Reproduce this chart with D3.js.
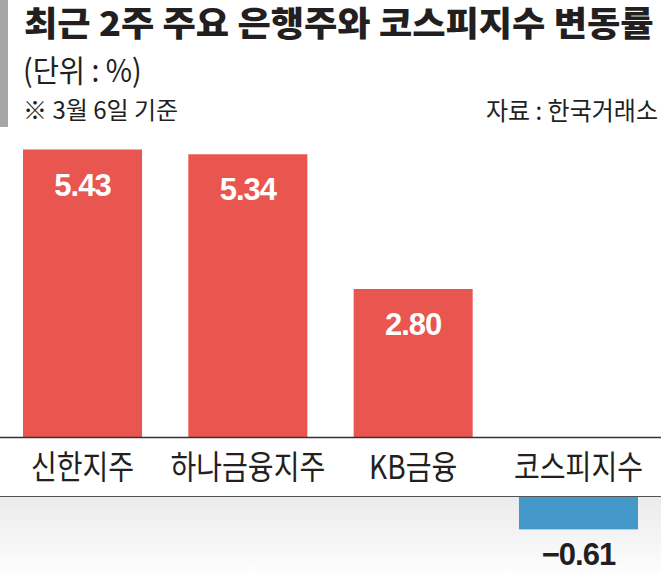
<!DOCTYPE html>
<html>
<head>
<meta charset="utf-8">
<script src="https://cdn.jsdelivr.net/npm/d3@7"></script>
<style>
  body { margin: 0; background: #fff; }
  svg { display: block; }
</style>
</head>
<body>
<svg id="chart" width="661" height="573"></svg>
<script>
// --- Data ---
const categories = ["신한지주", "하나금융지주", "KB금융", "코스피지수"];
const values = [5.43, 5.34, 2.80, -0.61];
const valueLabels = ["5.43", "5.34", "2.80", "−0.61"];

const svg = d3.select("#chart");
const W = 661, H = 573;

const red = "#e9554f";
const blue = "#4599ca";
const krFont = "'Noto Sans CJK KR', 'Noto Sans', sans-serif";
const numFont = "'Liberation Sans', Arial, sans-serif";

// --- Scales ---
const x = d3.scaleBand()
    .domain(categories)
    .range([23, 638])
    .paddingInner(0.28)
    .paddingOuter(0);

const zeroY = 437.5;     // baseline for positive bars
const negBase = 497;     // negative bars hang below the label band
const y = d3.scaleLinear().domain([0, 5.43]).range([zeroY, 149.5]);
const yNeg = d3.scaleLinear().domain([0, -5.43]).range([negBase, negBase + (zeroY - 149.5)]);

// --- Background band below labels ---
const defs = svg.append("defs");
const grad = defs.append("linearGradient")
    .attr("id", "fade").attr("x1", 0).attr("y1", 0).attr("x2", 0).attr("y2", 1);
grad.append("stop").attr("offset", "0%").attr("stop-color", "#ebebeb");
grad.append("stop").attr("offset", "100%").attr("stop-color", "#fdfdfd");

svg.append("rect")
    .attr("x", 0).attr("y", negBase)
    .attr("width", W).attr("height", H - negBase)
    .attr("fill", "url(#fade)");

// --- Header ---
svg.append("rect")
    .attr("x", 0).attr("y", 0)
    .attr("width", 8).attr("height", 127)
    .attr("fill", "#a6a6a6");

svg.append("text")
    .attr("transform", "translate(24,36) scale(1.065,1)")
    .attr("font-family", krFont)
    .attr("font-weight", 900)
    .attr("font-size", 34)
    .attr("fill", "#231f20")
    .text("최근 2주 주요 은행주와 코스피지수 변동률");

function squeezed(tx, ty, size, anchor, txt, sx) {
    svg.append("text")
        .attr("transform", `translate(${tx},${ty}) scale(${sx || 0.8},1)`)
        .attr("font-family", krFont)
        .attr("font-size", size)
        .attr("text-anchor", anchor)
        .attr("fill", "#231f20")
        .text(txt);
}

squeezed(23, 82, 31, "start", "(단위 : %)", 0.92);
squeezed(23, 119, 24, "start", "※ 3월 6일 기준", 1.0);
squeezed(658, 120, 25, "end", "자료 : 한국거래소", 0.96);

// --- Bars ---
svg.selectAll("rect.bar")
    .data(values)
    .enter()
    .append("rect")
    .attr("class", "bar")
    .attr("x", (d, i) => x(categories[i]))
    .attr("width", x.bandwidth())
    .attr("y", d => d >= 0 ? y(d) : negBase)
    .attr("height", d => d >= 0 ? zeroY - y(d) : yNeg(d) - negBase)
    .attr("fill", d => d >= 0 ? red : blue);

// --- Value labels ---
svg.selectAll("text.val")
    .data(values)
    .enter()
    .append("text")
    .attr("class", "val")
    .attr("x", (d, i) => x(categories[i]) + x.bandwidth() / 2)
    .attr("y", d => d >= 0 ? y(d) + 46 : yNeg(d) + 36)
    .attr("text-anchor", "middle")
    .attr("font-family", numFont)
    .attr("font-weight", 700)
    .attr("font-size", 31)
    .attr("letter-spacing", -1)
    .attr("fill", d => d >= 0 ? "#fff" : "#231f20")
    .text((d, i) => valueLabels[i]);

// --- Label band lines ---
svg.append("line")
    .attr("x1", 0).attr("x2", W)
    .attr("y1", zeroY).attr("y2", zeroY)
    .attr("stroke", "#333").attr("stroke-width", 1.5);

svg.append("line")
    .attr("x1", 0).attr("x2", W)
    .attr("y1", negBase - 0.5).attr("y2", negBase - 0.5)
    .attr("stroke", "#555").attr("stroke-width", 1.2);

// --- Category labels ---
categories.forEach(c => {
    squeezed(x(c) + x.bandwidth() / 2, 479, 33, "middle", c, 0.85);
});
</script>
</body>
</html>
